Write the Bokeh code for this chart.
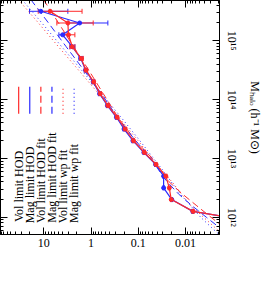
import math
from bokeh.plotting import figure
from bokeh.models import (Range1d, FixedTicker, CustomJSTickFormatter, LogAxis, Label,
                          Arrow, Whisker, TeeHead, ColumnDataSource)
from bokeh.embed import file_html
from bokeh.resources import INLINE

# ---------------- data ----------------
M_bins = [7.9e11, 1.26e12, 2.0e12, 3.16e12, 5.0e12, 7.9e12, 1.26e13, 2.0e13, 3.16e13,
          5.0e13, 7.9e13, 1.26e14, 2.0e14, 3.16e14, 5.0e14, 7.9e14, 1.26e15, 2.0e15, 3.16e15]
N_vol = [0.0002, 0.0069, 0.020, 0.022, 0.026, 0.042, 0.074, 0.126, 0.19, 0.28, 0.44,
         0.64, 0.88, 1.28, 1.61, 2.5, 3.0, 3.1, 7.35]
err_vol = [0.0, 0.0003, 0.0008, 0.001, 0.0012, 0.002, 0.003, 0.006, 0.01, 0.015, 0.025,
           0.04, 0.06, 0.1, 0.15, 0.3, 0.8, 2.2, 5.8]
N_mag = [0.0002, 0.0070, 0.0195, 0.029, 0.029, 0.043, 0.076, 0.13, 0.20, 0.29, 0.45,
         0.66, 0.90, 1.3, 1.65, 2.5, 4.0, 1.74, 11.6]
err_mag = [0.0, 0.0003, 0.0008, 0.001, 0.0012, 0.002, 0.003, 0.006, 0.01, 0.015, 0.025,
           0.04, 0.06, 0.1, 0.15, 0.3, 0.8, 1.3, 8.5]

M_fit = [5.0e15, 2.0e15, 7.9e14, 3.16e14, 1.26e14, 5.0e13, 2.0e13, 1.0e13, 6.3e12,
         4.0e12, 2.5e12, 1.6e12, 1.0e12, 6.3e11, 4.0e11]
N_vol_hod_fit = [10.2, 4.88, 2.34, 1.12, 0.551, 0.269, 0.114, 0.0502, 0.0334, 0.0222,
                 0.0117, 0.00593, 0.00287, 0.00139, 0.00067]
N_mag_hod_fit = [18.9, 7.96, 3.36, 1.42, 0.602, 0.279, 0.114, 0.0531, 0.0366, 0.0243,
                 0.0141, 0.00745, 0.0036, 0.00174, 0.00084]
N_vol_wp_fit = [34.8, 13.0, 4.90, 1.84, 0.692, 0.260, 0.1007, 0.0512, 0.0318, 0.0193,
                0.0122, 0.0078, 0.00412, 0.00218, 0.00116]
N_mag_wp_fit = [29.0, 11.0, 4.18, 1.59, 0.602, 0.231, 0.0923, 0.0473, 0.0302, 0.0200,
                0.0130, 0.00791, 0.00475, 0.00259, 0.00139]

legend_labels = ["Vol limit HOD", "Mag limit HOD", "Vol limit HOD fit",
                 "Mag limit HOD fit", "Vol limit wp fit", "Mag limit wp fit"]

N_ticks = [0.01, 0.1, 1, 10]
N_tick_labels = ["0.01", "0.1", "1", "10"]
M_ticks = [1e12, 1e13, 1e14, 1e15]
M_tick_labels = ["10\u00b9\u00b2", "10\u00b9\u00b3", "10\u00b9\u2074", "10\u00b9\u2075"]

M_title = "M\u2095\u2090\u2097\u2092 (h\u207b\u00b9 M\u2299)"
# bottom title as (text, size, shift) pieces; shift < 0 lowers (subscript)
N_title = [("<N", 12, 0), ("gal", 8.5, -2.5), ("|M>", 12, 0)]

N_range = (82.8, 0.0019)      # left edge, right edge
M_range = (5.1e11, 4.82e15)   # bottom, top

# ---------------- styling ----------------
RED = "#ff2a2a"
BLUE = "#2a2aff"
FONT = "Liberation Serif"
FW, FH = 219, 234
SX, SY = FW / 235.0, FH / 252.0

p = figure(frame_width=FW, frame_height=FH, x_axis_type="log", y_axis_type="log",
           x_range=Range1d(*N_range), y_range=Range1d(*M_range),
           x_axis_location="below", y_axis_location="right",
           output_backend="svg", toolbar_location=None,
           min_border_left=0, min_border_top=0, min_border_right=38, min_border_bottom=32)
p.xgrid.visible = False
p.ygrid.visible = False
p.outline_line_color = "black"
p.background_fill_color = "white"
p.border_fill_color = "white"

LX0, LX1 = math.log10(N_range[0]), math.log10(N_range[1])


def xdata(x):
    """frame pixel (from left) -> N"""
    return 10 ** (LX0 + (LX1 - LX0) * x / FW)


def minors(ticks):
    decs = [ticks[0] / 10.0] + list(ticks)
    return [d * k for d in decs for k in range(2, 10)]


def fmt(ticks, labels):
    return CustomJSTickFormatter(args=dict(tv=list(ticks), tl=list(labels)), code="""
        let best = 0, bd = 1e9;
        for (let i = 0; i < tv.length; i++) {
            const d = Math.abs(Math.log10(tv[i]) - Math.log10(tick));
            if (d < bd) { bd = d; best = i; }
        }
        return bd < 1e-3 ? tl[best] : '';
    """)


def style_axis(ax, ticks, labels, show):
    ax.ticker = FixedTicker(ticks=ticks, minor_ticks=minors(ticks))
    ax.major_tick_in = 7
    ax.major_tick_out = 0
    ax.minor_tick_in = 3
    ax.minor_tick_out = 0
    ax.axis_line_color = "black"
    ax.major_tick_line_color = "black"
    ax.minor_tick_line_color = "black"
    ax.axis_label = None
    if show:
        ax.formatter = fmt(ticks, labels)
        ax.major_label_text_font = FONT
        ax.major_label_text_font_size = "12px"
        ax.major_label_text_color = "black"
    else:
        ax.formatter = CustomJSTickFormatter(code="return '';")
        ax.major_label_text_font_size = "0px"
        ax.major_label_standoff = 0
        ax.axis_label_standoff = 0


xb = p.below[0]
yr = p.right[0]
style_axis(xb, N_ticks, N_tick_labels, True)
style_axis(yr, M_ticks, M_tick_labels, True)
xb.major_label_standoff = 4
yr.major_label_orientation = "vertical"
yr.major_label_standoff = 5
yr.axis_label = M_title
yr.axis_label_text_font = FONT
yr.axis_label_text_font_size = "12px"
yr.axis_label_text_font_style = "normal"
yr.axis_label_text_color = "black"
yr.axis_label_standoff = 6

xt = LogAxis()
style_axis(xt, N_ticks, N_tick_labels, False)
p.add_layout(xt, "above")
yl = LogAxis()
style_axis(yl, M_ticks, M_tick_labels, False)
p.add_layout(yl, "left")

# ---------------- fits ----------------
p.line(N_vol_wp_fit, M_fit, line_color=RED, line_dash="1 3", line_width=1)
p.line(N_mag_wp_fit, M_fit, line_color=BLUE, line_dash="1 3", line_width=1)
p.line(N_vol_hod_fit, M_fit, line_color=RED, line_dash="7 4", line_width=1)
p.line(N_mag_hod_fit, M_fit, line_color=BLUE, line_dash="7 4", line_width=1)

# ---------------- measurements ----------------
for N, err, col in ((N_mag, err_mag, BLUE), (N_vol, err_vol, RED)):
    lo = [n - e for n, e in zip(N, err) if e > 0]
    hi = [n + e for n, e in zip(N, err) if e > 0]
    mm = [m for m, e in zip(M_bins, err) if e > 0]
    src = ColumnDataSource(dict(M=mm, lo=lo, hi=hi))
    p.add_layout(Whisker(source=src, base="M", lower="lo", upper="hi", dimension="width",
                         line_color=col, line_width=1,
                         upper_head=TeeHead(size=5, line_color=col, line_width=1),
                         lower_head=TeeHead(size=5, line_color=col, line_width=1)))
    p.line(N, M_bins, line_color=col, line_width=1.2)
    p.scatter(N, M_bins, marker="circle", size=4, color=col)

# ---------------- text widths (Times metrics) ----------------
TW = {'<': 564, '>': 564, 'N': 722, 'g': 500, 'a': 444, 'l': 278, '|': 200, 'M': 889,
      'h': 500, 'o': 500, ' ': 250, '(': 333, ')': 333, '-': 333, '1': 500,
      'V': 722, 'i': 278, 'm': 778, 't': 278, 'H': 722, 'O': 722, 'D': 722,
      'f': 333, 'w': 722, 'p': 500, '\u00a0': 250}


def twidth(s, size):
    return sum(TW.get(ch, 500) for ch in s) * size / 1000.0


# ---------------- legend (rotated texts carried by axis titles) ----------------
leg_colors = [RED, BLUE, RED, BLUE, RED, BLUE]
leg_dash = ["solid", "solid", "7 4", "7 4", "1 3", "1 3"]
Y_START = (252 - 240) * SY
for i, (lab, c, d) in enumerate(zip(legend_labels, leg_colors, leg_dash)):
    lx = (19.5 + 11.9 * i) * SX
    p.add_layout(Arrow(x_start=lx, y_start=(252 - 122) * SY, x_end=lx, y_end=(252 - 93) * SY,
                       start_units="screen", end_units="screen", start=None, end=None,
                       line_color=c, line_dash=d, line_width=1.2))
    n_pad = max(0, int(round((2 * (FH / 2.0 - Y_START) - twidth(lab, 12)) / 3.0)))
    ax = LogAxis(fixed_location=xdata(lx + 6.6))
    ax.ticker = FixedTicker(ticks=[], minor_ticks=[])
    ax.formatter = CustomJSTickFormatter(code="return '';")
    ax.axis_line_color = None
    ax.major_tick_line_color = None
    ax.minor_tick_line_color = None
    ax.major_label_text_font_size = "0px"
    ax.major_label_standoff = 0
    ax.axis_label = lab + "\u00a0" * n_pad
    ax.axis_label_standoff = 0
    ax.axis_label_text_font = FONT
    ax.axis_label_text_font_size = "12px"
    ax.axis_label_text_font_style = "normal"
    ax.axis_label_text_color = "black"
    p.add_layout(ax, "left")

# ---------------- bottom title (horizontal pieces) ----------------
tot = sum(twidth(t, s) for t, s, _ in N_title)
adv = 117 * SX - tot / 2.0
for txt, size, shift in N_title:
    p.add_layout(Label(x=adv, y=-26 + shift, x_units="screen", y_units="screen", text=txt,
                       text_font=FONT, text_font_size=f"{size}px", text_align="left",
                       text_baseline="alphabetic", text_color="black"))
    adv += twidth(txt, size)

open("out.html", "w").write(file_html(p, INLINE))
